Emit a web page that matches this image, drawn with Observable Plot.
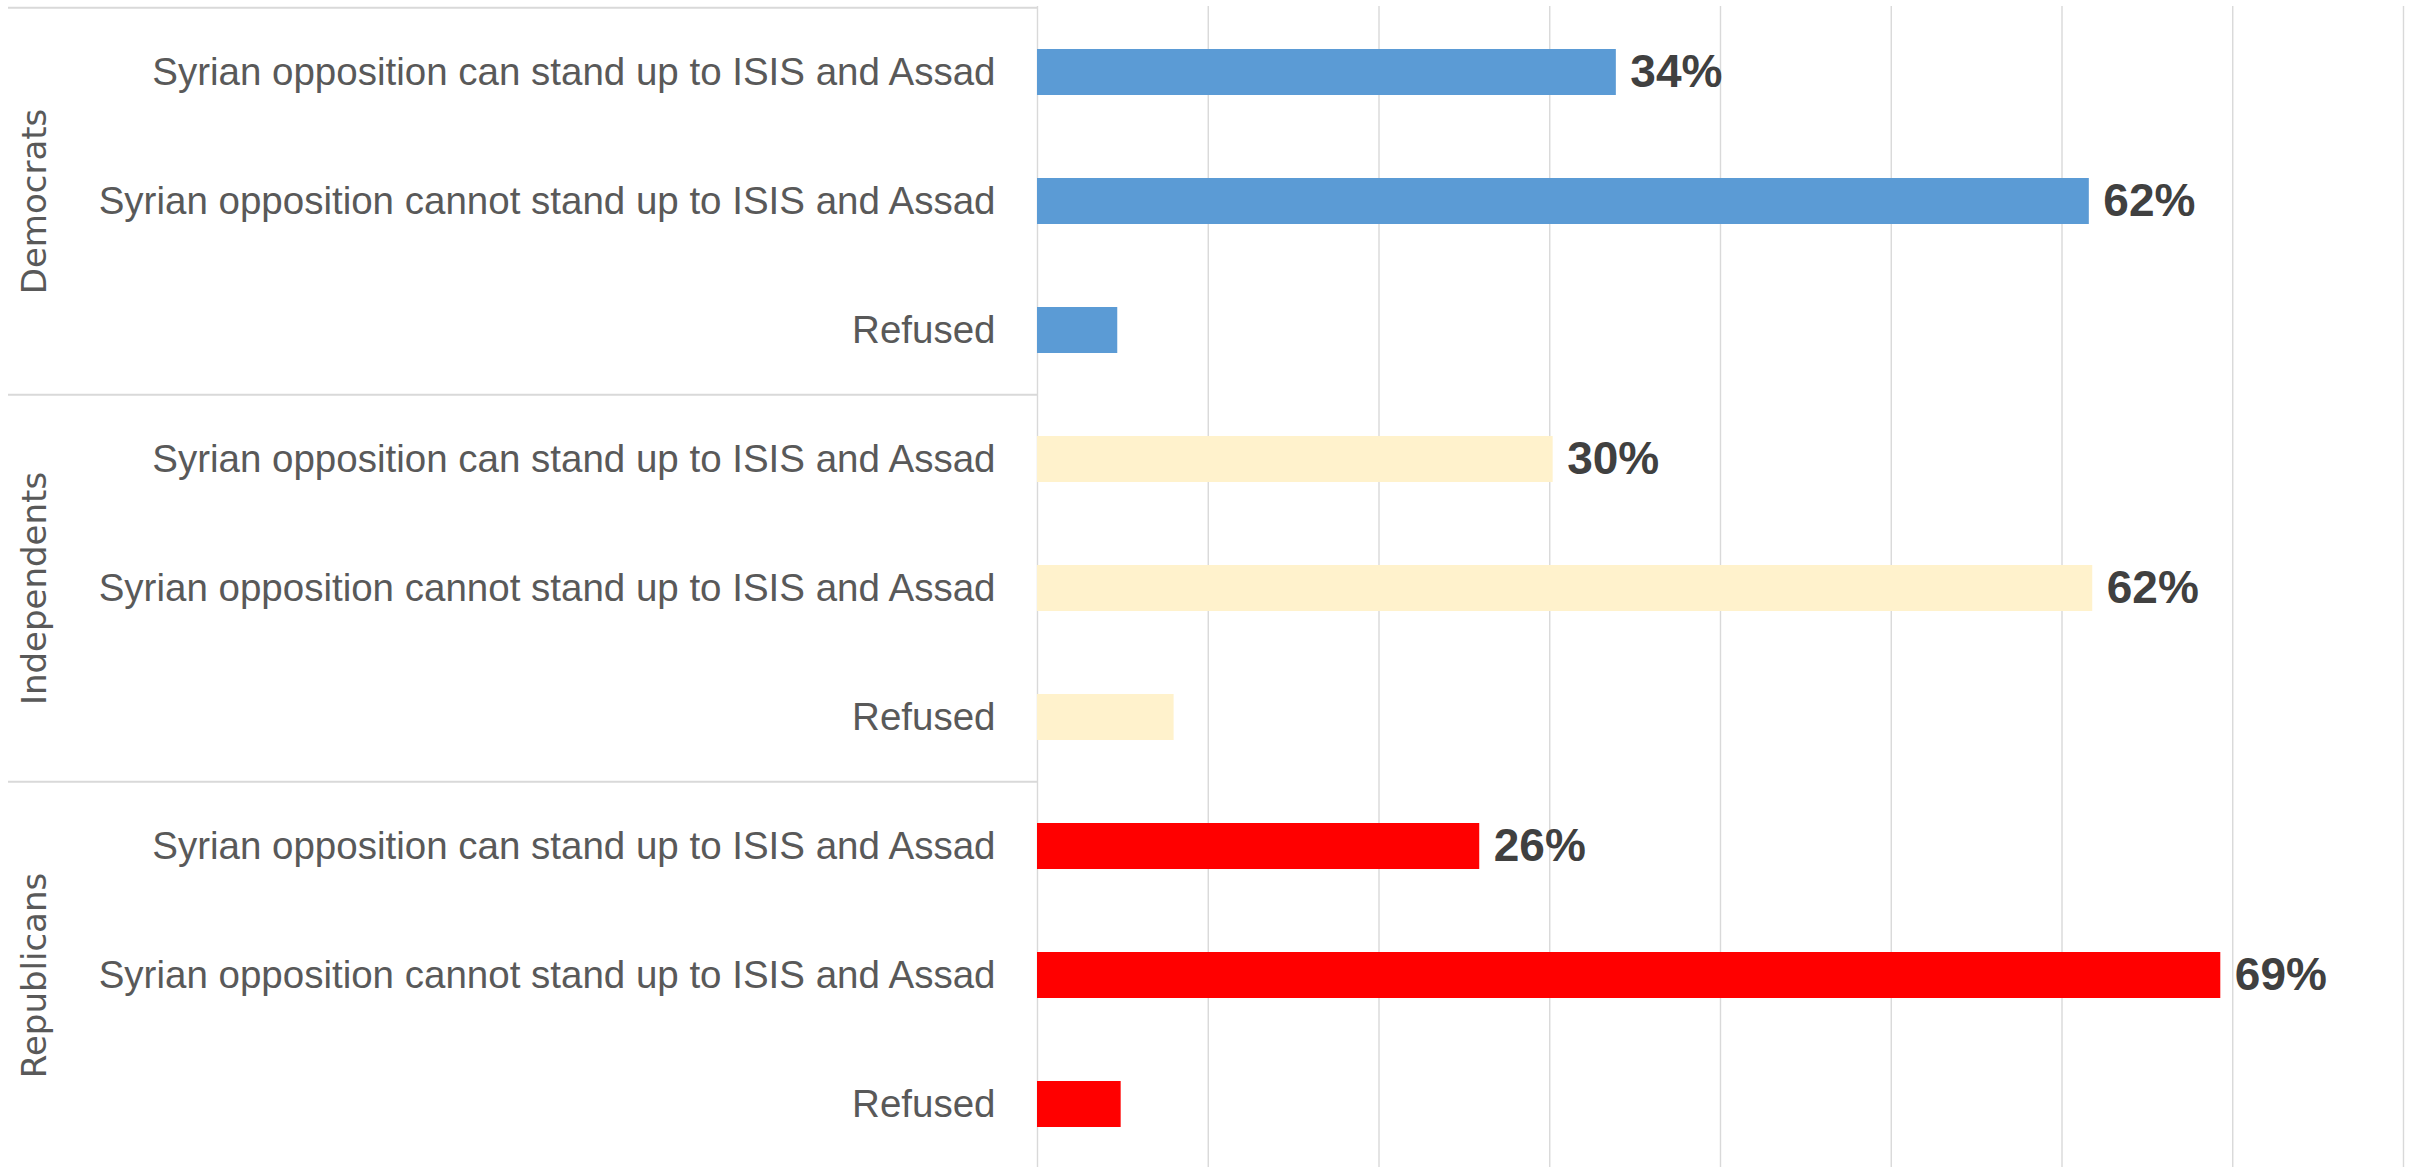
<!DOCTYPE html>
<html><head><meta charset="utf-8">
<script src="https://cdn.jsdelivr.net/npm/d3@7"></script>
<script src="https://cdn.jsdelivr.net/npm/@observablehq/plot@0.6"></script>
<style>html,body{margin:0;padding:0;background:#fff;overflow:hidden;}</style>
</head><body><div id="chart"></div>
<script>
const groups = ["Democrats", "Independents", "Republicans"];
const categories = [
  "Syrian opposition can stand up to ISIS and Assad",
  "Syrian opposition cannot stand up to ISIS and Assad",
  "Refused"
];
const democrats = [0.339, 0.616, 0.047];
const independents = [0.302, 0.618, 0.080];
const republicans = [0.259, 0.693, 0.049];
const democratLabels = ["34%", "62%", ""];
const independentLabels = ["30%", "62%", ""];
const republicanLabels = ["26%", "69%", ""];
const groupColors = ["#5B9BD5", "#FFF2CC", "#FF0000"];
const xTicks = [0, 0.1, 0.2, 0.3, 0.4, 0.5, 0.6, 0.7, 0.8];

const seriesValues = [democrats, independents, republicans];
const seriesLabels = [democratLabels, independentLabels, republicanLabels];
const rows = [];
groups.forEach((g, gi) => categories.forEach((c, ci) => rows.push({
  group: g, category: c, key: g + "|" + c,
  value: seriesValues[gi][ci], label: seriesLabels[gi][ci]
})));
const keys = rows.map(d => d.key);
const groupFirstKeys = groups.map(g => g + "|" + categories[0]);
const groupMidKeys = groups.map(g => g + "|" + categories[1]);
const halfStep = (1170 - 6) / keys.length / 2;

const chart = Plot.plot({
  width: 2417, height: 1167,
  marginLeft: 1037, marginRight: 14, marginTop: 6, marginBottom: 0,
  style: {background: "#fff", fontFamily: "'Liberation Sans', Arial, sans-serif"},
  x: {domain: [0, 0.8], axis: null},
  y: {domain: keys, range: [6, 1170], paddingInner: 0.644, paddingOuter: 0.322, axis: null},
  color: {domain: groups, range: groupColors},
  marks: [
    Plot.gridX(xTicks, {stroke: "#d9d9d9", strokeOpacity: 1, strokeWidth: 1.4}),
    Plot.ruleY(groupFirstKeys, {y: d => d, dy: -halfStep, stroke: "#d9d9d9", strokeWidth: 2, insetLeft: -1029, insetRight: 1366}),
    Plot.barX(rows, {x: "value", y: "key", fill: "group"}),
    Plot.axisY({tickSize: 0, tickPadding: 42, tickFormat: k => k.split("|")[1], fontSize: 38.5, color: "#595959", label: null}),
    Plot.text(groups, {y: (d, i) => groupMidKeys[i], text: d => d, rotate: -90, frameAnchor: "left", textAnchor: "middle", dx: -1002, fontSize: 34, fill: "#595959", fontFamily: "'DejaVu Sans', Verdana, sans-serif"}),
    Plot.text(rows.filter(d => d.label), {x: "value", y: "key", text: "label", dx: 14, textAnchor: "start", fontSize: 46, fontWeight: "bold", fill: "#404040"})
  ]
});
document.getElementById("chart").appendChild(chart);
</script>
</body></html>
